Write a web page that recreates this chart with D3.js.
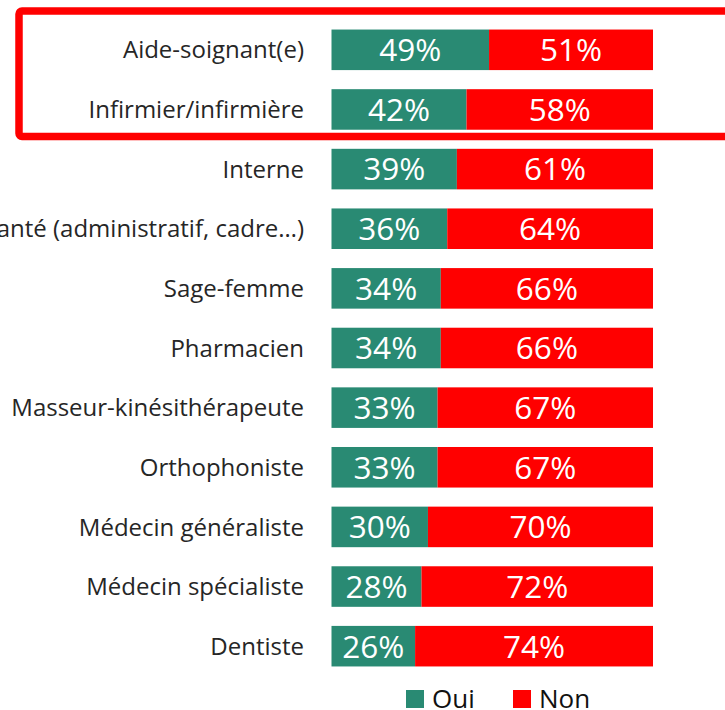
<!DOCTYPE html>
<html>
<head>
<meta charset="utf-8">
<script src="https://cdn.jsdelivr.net/npm/d3@7"></script>
<style>
  html, body { margin: 0; padding: 0; background: #fff; overflow: hidden; }
  svg { display: block; }
</style>
</head>
<body>
<svg id="chart"></svg>
<script>
// Données
const categories = [
  "Aide-soignant(e)",
  "Infirmier/infirmière",
  "Interne",
  "Autre professionnel de santé (administratif, cadre…)",
  "Sage-femme",
  "Pharmacien",
  "Masseur-kinésithérapeute",
  "Orthophoniste",
  "Médecin généraliste",
  "Médecin spécialiste",
  "Dentiste"
];
const oui = [49, 42, 39, 36, 34, 34, 33, 33, 30, 28, 26];
const non = [51, 58, 61, 64, 66, 66, 67, 67, 70, 72, 74];
const series = ["Oui", "Non"];

const width = 725;
const height = 710;
const vert = "#298A73";
const rouge = "#FF0000";
const police = "'Open Sans', 'Noto Sans', sans-serif";

const svg = d3.select("#chart")
  .attr("width", width)
  .attr("height", height);

const rows = categories.map((c, i) => ({ cat: c, Oui: oui[i], Non: non[i] }));
const stack = d3.stack().keys(series)(rows);

const x = d3.scaleLinear().domain([0, 100]).range([331.5, 653]);
const y = d3.scaleBand()
  .domain(categories)
  .range([20, 676])
  .paddingInner(0.32)
  .paddingOuter(0.16);
const color = d3.scaleOrdinal().domain(series).range([vert, rouge]);

// Barres empilées
const groups = svg.selectAll("g.serie")
  .data(stack)
  .join("g")
  .attr("class", "serie")
  .attr("fill", d => color(d.key));

groups.selectAll("rect")
  .data(d => d)
  .join("rect")
  .attr("x", d => x(d[0]))
  .attr("y", d => y(d.data.cat))
  .attr("width", d => x(d[1]) - x(d[0]))
  .attr("height", y.bandwidth());

// Pourcentages dans les barres
groups.selectAll("text")
  .data(d => d)
  .join("text")
  .attr("x", d => (x(d[0]) + x(d[1])) / 2)
  .attr("y", d => y(d.data.cat) + y.bandwidth() / 2)
  .attr("dy", "0.36em")
  .attr("text-anchor", "middle")
  .attr("fill", "#fff")
  .style("font-family", police)
  .style("font-size", "31.5px")
  .text(d => (d[1] - d[0]) + "%");

// Libellés des catégories
svg.selectAll("text.cat")
  .data(categories)
  .join("text")
  .attr("class", "cat")
  .attr("x", 304)
  .attr("y", d => y(d) + y.bandwidth() / 2)
  .attr("dy", "0.36em")
  .attr("text-anchor", "end")
  .attr("fill", "#262626")
  .style("font-family", police)
  .style("font-size", "24px")
  .text(d => d);

// Encadré rouge autour des deux premières lignes
svg.append("rect")
  .attr("x", 19)
  .attr("y", 11)
  .attr("width", 740)
  .attr("height", 125.5)
  .attr("rx", 3)
  .attr("fill", "none")
  .attr("stroke", rouge)
  .attr("stroke-width", 7.5);

// Légende
const legendX = [406, 513];
const leg = svg.selectAll("g.leg")
  .data(series)
  .join("g")
  .attr("class", "leg")
  .attr("transform", (d, i) => `translate(${legendX[i]},690)`);
leg.append("rect")
  .attr("width", 18)
  .attr("height", 18)
  .attr("fill", d => color(d));
leg.append("text")
  .attr("x", 26)
  .attr("y", 18)
  .attr("fill", "#111")
  .style("font-family", police)
  .style("font-size", "26px")
  .text(d => d);
</script>
</body>
</html>
